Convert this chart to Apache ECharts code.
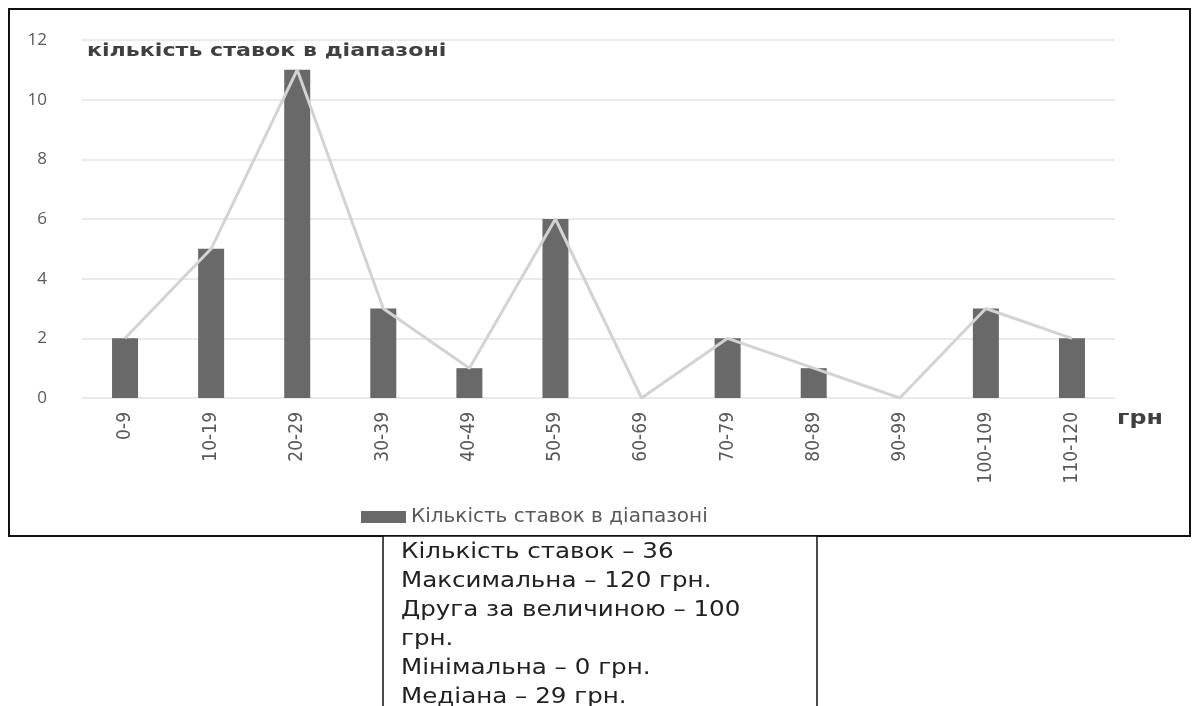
<!DOCTYPE html>
<html><head><meta charset="utf-8">
<script src="https://cdn.jsdelivr.net/npm/echarts@6/dist/echarts.min.js"></script>
<style>html,body{margin:0;padding:0;background:#fff}#c{width:1192px;height:706px}</style>
</head><body><div id="c"></div>
<script>
const categories = ['0-9','10-19','20-29','30-39','40-49','50-59','60-69','70-79','80-89','90-99','100-109','110-120'];
const counts = [2,5,11,3,1,6,0,2,1,0,3,2];
const yTicks = [0,2,4,6,8,10,12];
const seriesName = 'Кількість ставок в діапазоні';
const innerTitle = 'кількість ставок в діапазоні';
const unitLabel = 'грн';
const notes = ['Кількість ставок – 36','Максимальна – 120 грн.','Друга за величиною – 100','грн.','Мінімальна – 0 грн.','Медіана – 29 грн.'];

const chart = echarts.init(document.getElementById('c'));
const noteEls = notes.map((t,i)=>({type:'text', x:401, y:542+i*29, scaleX:1.17,
  style:{text:t, x:0, y:0, align:'left', verticalAlign:'top', font:'21px "DejaVu Sans", sans-serif', fill:'#222'}}));
chart.setOption({
  animation:false,
  grid:{left:82,right:77,top:40,bottom:308},
  legend:{data:[seriesName], left:356, top:502, icon:'rect', itemWidth:45, itemHeight:12, itemGap:2,
    textStyle:{fontSize:20, color:'#595959', fontFamily:'"DejaVu Sans", sans-serif'}},
  xAxis:{type:'category', data:categories,
    axisLine:{show:false}, axisTick:{show:false},
    axisLabel:{rotate:90, margin:14, fontSize:19, color:'#595959', fontFamily:'"Liberation Sans Narrow", "Arial Narrow", "DejaVu Sans Condensed", sans-serif'}},
  yAxis:{type:'value', min:0, max:12, interval:2,
    axisLabel:{margin:35, fontSize:17, color:'#595959', fontFamily:'"Open Sans", "Liberation Sans", sans-serif',
      formatter:v=>yTicks.includes(v)?String(v):''},
    splitLine:{lineStyle:{color:'#e3e3e3', width:1.5}}},
  series:[
    {name:seriesName, type:'bar', data:counts, barWidth:26, itemStyle:{color:'#696969'}, z:2},
    {name:'line', type:'line', data:counts, symbol:'none', lineStyle:{color:'#d3d3d3', width:3}, itemStyle:{color:'#d3d3d3'}, z:3}
  ],
  graphic:[
    {type:'rect', shape:{x:9, y:9, width:1181, height:527}, style:{fill:'none', stroke:'#111', lineWidth:2}, z:-1},
    {type:'text', x:87, y:42, scaleX:1.23, style:{text:innerTitle, x:0, y:0, align:'left', verticalAlign:'top', font:'bold 18px "DejaVu Sans", sans-serif', fill:'#404040'}},
    {type:'text', x:1117, y:410, scaleX:1.25, style:{text:unitLabel, x:0, y:0, align:'left', verticalAlign:'top', font:'bold 19px "DejaVu Sans", sans-serif', fill:'#404040'}},
    {type:'rect', shape:{x:383, y:536, width:434, height:200}, style:{fill:'#fff', stroke:'#111', lineWidth:1.5}},
    ...noteEls
  ]
});
</script></body></html>
